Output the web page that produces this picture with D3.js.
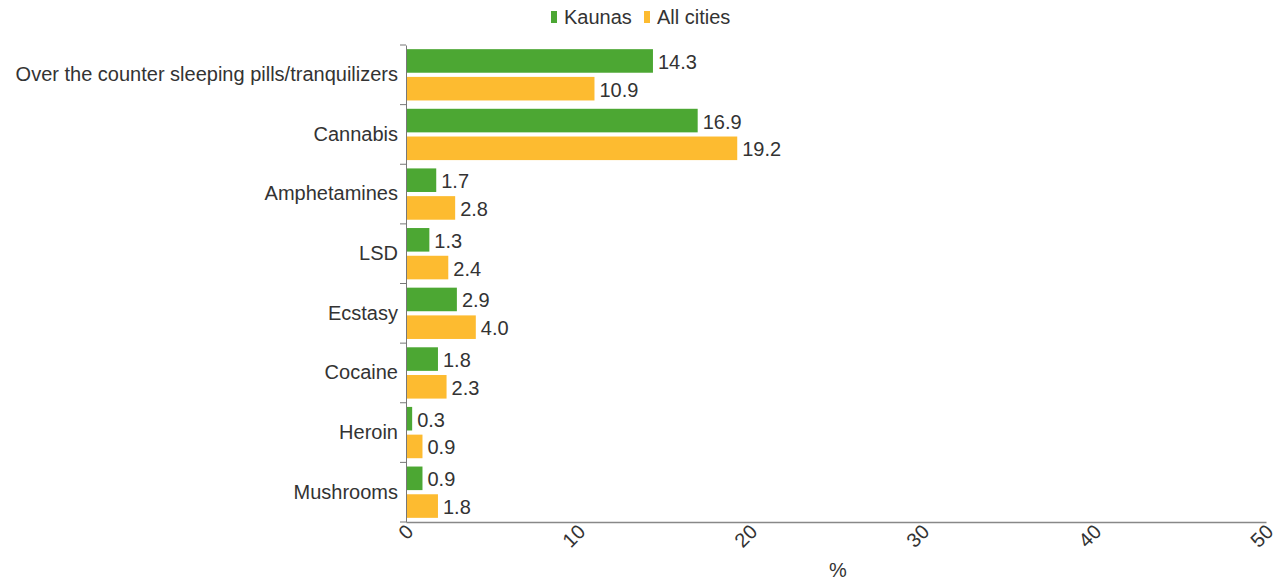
<!DOCTYPE html>
<html><head><meta charset="utf-8">
<script src="https://cdn.jsdelivr.net/npm/d3@7"></script>
<style>body{margin:0;background:#fff;} text{font-family:"Liberation Sans",Arial,sans-serif;}</style>
</head><body>
<svg id="c" width="1282" height="581"></svg>
<script>
const categories = ["Over the counter sleeping pills/tranquilizers","Cannabis","Amphetamines","LSD","Ecstasy","Cocaine","Heroin","Mushrooms"];
const kaunas = [14.3,16.9,1.7,1.3,2.9,1.8,0.3,0.9];
const allCities = [10.9,19.2,2.8,2.4,4.0,2.3,0.9,1.8];
const seriesNames = ["Kaunas","All cities"];
const xTicks = [0,10,20,30,40,50];
const colors = ["#4CA733","#FDBB30"];

(function(){
const svg = d3.select("#c");
const FS = 20;
const mLeft = 406, mRight = 1266, mTop = 45, mBottom = 522;
const x = d3.scaleLinear().domain([0,50]).range([mLeft,mRight]);
const y = d3.scaleBand().domain(categories).range([mTop,mBottom]);
const inner = d3.scaleBand().domain(seriesNames).range([0,y.bandwidth()]).paddingInner(0.15).paddingOuter(0.15);

const series = [kaunas, allCities];
series.forEach((vals,si)=>{
  const g = svg.append("g");
  g.selectAll("rect").data(categories).join("rect")
    .attr("x", x(0)+1)
    .attr("y", c=>y(c)+inner(seriesNames[si]))
    .attr("width", (c,i)=>x(vals[i])-x(0))
    .attr("height", inner.bandwidth())
    .attr("fill", colors[si]);
  g.selectAll("text").data(categories).join("text")
    .attr("x", (c,i)=>x(vals[i])+6)
    .attr("y", c=>y(c)+inner(seriesNames[si])+inner.bandwidth()/2)
    .attr("dy","0.4em")
    .attr("font-size",FS).attr("fill","#333")
    .text((c,i)=>vals[i].toFixed(1));
});

const ya = svg.append("g").attr("transform",`translate(${mLeft},0)`)
  .call(d3.axisLeft(y).tickSize(0).tickPadding(8));
ya.select(".domain").attr("stroke","#777");
ya.selectAll("text").attr("font-size",FS).attr("fill","#333").attr("font-family","Liberation Sans, Arial, sans-serif");
const bounds = categories.map(c=>y(c)).concat([mBottom]);
svg.append("g").selectAll("line").data(bounds).join("line")
  .attr("x1",mLeft-6).attr("x2",mLeft).attr("y1",d=>d).attr("y2",d=>d)
  .attr("stroke","#777");

const xa = svg.append("g").attr("transform",`translate(0,${mBottom})`)
  .call(d3.axisBottom(x).tickValues(xTicks).tickSize(0).tickPadding(0));
xa.select(".domain").attr("stroke","#888").attr("stroke-width",1.5);
xa.selectAll("text").attr("font-size",FS).attr("fill","#333")
  .attr("font-family","Liberation Sans, Arial, sans-serif")
  .attr("text-anchor","end").attr("dy",0)
  .attr("transform","translate(8,11) rotate(-45)");

svg.append("text").attr("x",838).attr("y",577).attr("text-anchor","middle")
  .attr("font-size",FS).attr("fill","#333").text("%");

const leg = svg.append("g").attr("transform","translate(551,17)");
const lx = [0, 93];
seriesNames.forEach((n,i)=>{
  leg.append("rect").attr("x",lx[i]).attr("y",-6).attr("width",6).attr("height",12).attr("fill",colors[i]);
  leg.append("text").attr("x",lx[i]+13).attr("y",0).attr("dy","0.36em").attr("font-size",FS).attr("fill","#333").text(n);
});
})();
</script>
</body></html>
